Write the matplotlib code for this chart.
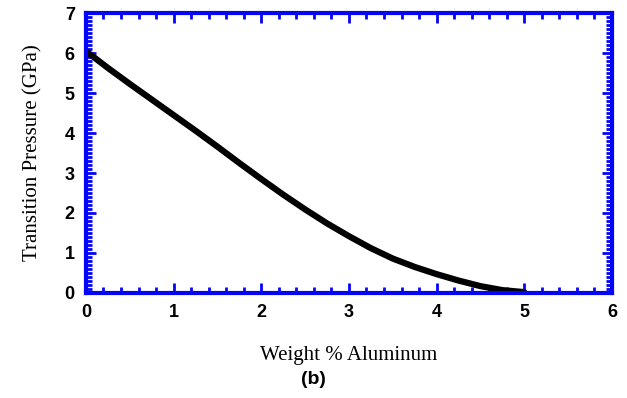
import matplotlib.pyplot as plt
from matplotlib.ticker import MultipleLocator

weight_al = [0, 0.25, 0.5, 0.75, 1, 1.25, 1.5, 1.75, 2, 2.25, 2.5, 2.75,
             3, 3.25, 3.5, 3.75, 4, 4.25, 4.5, 4.75, 5]
pressure = [6.05, 5.63, 5.23, 4.84, 4.45, 4.06, 3.66, 3.25, 2.85, 2.46, 2.09, 1.74,
            1.42, 1.12, 0.86, 0.65, 0.47, 0.31, 0.17, 0.07, 0.02]

blue = '#0505f5'

fig = plt.figure(figsize=(6.27, 3.98), dpi=100)
ax = fig.add_axes([0.137, 0.264, 0.839, 0.703])

ax.plot(weight_al, pressure, color='black', lw=4.5, solid_capstyle='round')

ax.set_xlim(0, 6)
ax.set_ylim(0, 7)
ax.xaxis.set_major_locator(MultipleLocator(1))
ax.xaxis.set_minor_locator(MultipleLocator(0.2))
ax.yaxis.set_major_locator(MultipleLocator(1))
ax.yaxis.set_minor_locator(MultipleLocator(0.1))

for s in ax.spines.values():
    s.set_color(blue)
    s.set_linewidth(3)
ax.tick_params(which='both', direction='in', top=True, right=True, color=blue, width=2)
ax.tick_params(which='major', length=7, labelsize=13, pad=8)
ax.tick_params(which='minor', length=4)
for lab in ax.get_xticklabels() + ax.get_yticklabels():
    lab.set_fontweight('bold')
    lab.set_family('Liberation Sans')

ax.set_xlabel('Weight % Aluminum', family='Liberation Serif', fontsize=15, labelpad=18)
ax.set_ylabel('Transition Pressure (GPa)', family='Liberation Serif', fontsize=15, labelpad=16)
fig.text(0.5, 0.035, '(b)', ha='center', fontsize=14, fontweight='bold', family='Liberation Sans')

fig.savefig('out.png', dpi=100)
